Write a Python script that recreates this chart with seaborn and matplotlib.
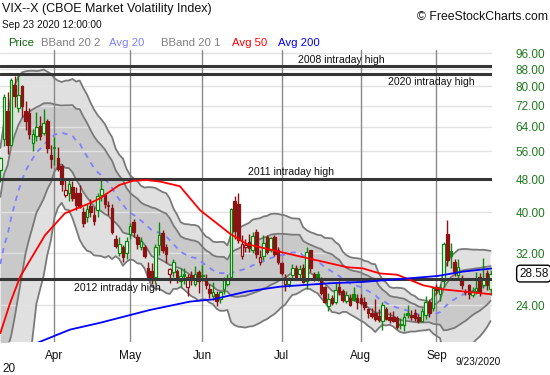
import numpy as np
import pandas as pd
import matplotlib
matplotlib.use("Agg")
import matplotlib.pyplot as plt
import matplotlib.transforms as mtransforms
from matplotlib.ticker import NullLocator
import seaborn as sns

# ---------------- data ----------------
# closes of the 19 sessions before the first visible one (needed for the 20-day bands)
prior_close = [13.74, 14.15, 13.68, 14.83, 14.38, 15.56, 17.08, 25.03, 27.85, 27.56,
               39.16, 40.11, 33.42, 36.82, 31.99, 39.62, 41.94, 54.46, 47.30]

opens = [50.5, 60.0, 70.0, 58.0, 80.5, 71.0, 80.0, 70.0, 69.0, 58.5,
         61.0, 64.5, 62.0, 66.0, 55.0, 57.0, 54.0, 51.5, 44.0, 44.5,
         46.0, 44.5, 44.5, 40.0, 39.0, 41.5, 39.5, 40.5, 44.0, 44.0,
         41.5, 41.0, 34.5, 32.0, 33.0, 32.0, 35.5, 38.0, 35.0, 33.0,
         33.0, 29.5, 29.0, 28.0, 33.5, 35.8, 33.0, 28.5, 28.8, 29.0,
         27.5, 28.5, 26.5, 28.4, 27.0, 28.9, 28.4, 27.8, 26.3, 25.2,
         25.5, 24.8, 26.3, 27.0, 28.0, 42.5, 42.0, 31.5, 33.0, 34.0,
         32.5, 36.0, 30.5, 31.5, 35.0, 32.5, 35.0, 32.5, 30.3, 27.0,
         27.0, 28.3, 29.5, 28.5, 29.5, 27.5, 32.5, 28.5, 28.5, 27.6,
         26.5, 23.9, 25.0, 24.4, 26.5, 26.0, 24.6, 25.0, 25.5, 25.0,
         25.0, 24.5, 23.5, 23.0, 23.0, 22.6, 22.0, 23.5, 22.5, 22.5,
         22.4, 21.7, 21.5, 23.0, 22.8, 23.0, 22.5, 22.0, 22.7, 24.5,
         23.6, 26.5, 25.6, 27.5, 35.5, 32.3, 30.4, 28.4, 27.9, 25.9,
         26.9, 25.4, 26.0, 28.0, 26.9, 28.6, 26.2]
highs = [54.4, 76.8, 77.6, 83.6, 84.8, 85.47, 80.6, 73.7, 71.0, 63.3,
         69.4, 67.8, 70.5, 67.0, 58.0, 60.6, 57.2, 52.3, 48.0, 48.3,
         47.5, 46.0, 46.5, 41.3, 42.0, 43.0, 41.1, 44.6, 47.7, 44.5,
         42.6, 42.0, 35.4, 35.0, 33.5, 35.0, 37.8, 38.5, 35.6, 35.0,
         33.5, 30.5, 30.3, 33.6, 38.0, 36.3, 33.7, 29.5, 30.9, 29.3,
         29.5, 29.5, 28.5, 29.0, 29.8, 29.2, 30.0, 28.5, 27.0, 27.3,
         26.0, 26.0, 28.0, 28.5, 41.0, 43.8, 44.4, 35.3, 34.5, 35.5,
         36.0, 36.5, 32.5, 35.3, 35.3, 35.0, 35.3, 33.0, 30.5, 28.5,
         28.0, 30.2, 30.0, 30.0, 30.1, 33.0, 32.6, 28.9, 29.0, 28.0,
         26.7, 25.7, 25.4, 27.2, 27.5, 26.3, 25.9, 25.6, 26.5, 25.6,
         25.6, 25.1, 23.7, 23.6, 24.9, 23.5, 24.5, 23.8, 23.1, 23.3,
         22.6, 22.4, 23.0, 24.0, 23.4, 23.5, 22.9, 23.7, 25.3, 24.8,
         26.5, 27.0, 27.0, 34.0, 38.3, 33.8, 31.0, 31.0, 28.3, 26.3,
         27.0, 26.5, 28.9, 28.7, 31.2, 29.1, 29.1]
lows = [47.2, 57.5, 55.3, 57.6, 71.5, 69.4, 67.6, 63.0, 59.8, 56.0,
        59.2, 59.5, 61.1, 55.5, 51.2, 52.0, 50.2, 45.0, 43.5, 42.5,
        42.5, 40.5, 41.0, 37.0, 38.0, 39.0, 37.4, 39.0, 42.5, 41.0,
        39.5, 35.6, 32.9, 31.5, 30.5, 30.9, 34.5, 35.0, 32.8, 32.5,
        31.1, 27.6, 27.0, 27.1, 31.6, 32.0, 30.3, 27.1, 28.0, 27.2,
        26.6, 27.0, 25.3, 26.8, 26.7, 25.7, 27.5, 26.2, 25.0, 24.7,
        23.9, 24.3, 25.6, 26.7, 28.0, 34.5, 33.8, 31.0, 32.2, 32.2,
        32.0, 31.2, 30.0, 30.8, 31.9, 32.2, 31.5, 30.2, 28.3, 26.0,
        26.5, 27.8, 28.0, 27.6, 27.1, 26.3, 28.9, 27.4, 27.4, 25.4,
        24.3, 23.3, 24.0, 24.2, 25.4, 24.5, 24.3, 23.9, 24.6, 23.5,
        24.0, 23.4, 22.4, 22.4, 22.0, 21.9, 21.0, 22.2, 21.8, 21.9,
        21.1, 21.1, 20.9, 22.4, 22.2, 22.0, 21.8, 21.9, 22.3, 22.5,
        23.3, 25.5, 24.6, 26.5, 29.8, 29.4, 28.2, 27.9, 26.3, 25.4,
        24.9, 25.1, 25.6, 25.3, 26.4, 26.1, 25.4]
closes = [53.90, 75.47, 57.83, 82.69, 75.91, 76.45, 72.00, 66.04, 61.59, 61.67,
          63.95, 61.00, 65.54, 57.08, 53.54, 57.06, 50.91, 46.80, 45.24, 46.70,
          43.35, 41.67, 41.17, 37.76, 40.84, 40.11, 38.15, 43.83, 45.41, 41.98,
          41.38, 35.93, 33.29, 33.57, 31.23, 34.15, 37.19, 35.97, 33.61, 34.12,
          31.44, 27.98, 27.57, 33.04, 35.28, 32.61, 31.89, 29.30, 30.53, 27.99,
          28.16, 28.16, 28.01, 27.62, 28.59, 27.51, 28.23, 26.84, 25.66, 25.81,
          24.52, 25.81, 27.57, 27.57, 40.79, 36.09, 34.40, 33.67, 33.47, 32.94,
          35.12, 31.77, 31.37, 33.84, 32.22, 34.73, 31.78, 30.43, 28.62, 27.68,
          27.94, 29.43, 28.08, 29.26, 27.29, 32.19, 29.52, 27.76, 28.00, 25.68,
          24.46, 24.84, 24.32, 26.08, 25.84, 24.74, 25.44, 24.10, 24.76, 24.46,
          24.28, 23.76, 23.00, 22.65, 22.21, 22.13, 24.03, 22.28, 22.13, 22.05,
          21.35, 21.51, 22.54, 22.72, 22.54, 22.37, 22.03, 23.27, 24.47, 22.96,
          26.41, 26.12, 26.57, 33.60, 30.75, 31.46, 28.81, 29.71, 26.87, 25.85,
          25.59, 26.04, 26.46, 25.83, 27.78, 26.86, 28.58]

# 50-day and 200-day averages (session index, value)
ma50_idx = [0, 2.7, 5.5, 12.4, 17.9, 24.9, 27.6, 33.0, 36.8, 40.5, 44.3, 49.8, 55.4, 63.7,
            68.4, 77.6, 86.7, 96.2, 100.6, 105.3, 110.1, 117.3, 122.8, 136.4]
ma50_val = [20.6, 24.3, 28.1, 35.3, 39.8, 42.1, 43.2, 46.5, 47.6, 47.8, 47.4, 46.2, 40.5, 35.6,
            33.6, 32.2, 30.9, 29.6, 29.4, 28.6, 28.4, 26.8, 26.2, 25.5]
ma200_idx = [8.2, 11.0, 19.3, 27.6, 41.5, 52.6, 59.0, 68.4, 77.6, 91.5, 100.6,
             110.1, 121.2, 128.4, 136.4]
ma200_val = [19.2, 19.65, 21.0, 21.8, 23.4, 24.5, 24.8, 25.9, 26.6, 27.1, 27.3,
             27.7, 28.2, 28.9, 29.4]

levels = [89.53, 85.47, 48.20, 27.73]
level_labels = ["2008 intraday high", "2020 intraday high", "2011 intraday high", "2012 intraday high"]

y_ticks = [24, 32, 40, 48, 56, 64, 72, 80, 88, 96]
month_labels = ["Apr", "May", "Jun", "Jul", "Aug", "Sep"]

# ---------------- derived ----------------
dates = pd.bdate_range("2020-03-11", "2020-09-23")
holidays = pd.to_datetime(["2020-04-10", "2020-05-25", "2020-07-03", "2020-09-07"])
dates = dates[~dates.isin(holidays)]
n = len(closes)
assert len(dates) == n == len(opens) == len(highs) == len(lows)
idx = np.arange(n)

allc = pd.Series(prior_close + closes)
mid = allc.rolling(20).mean().to_numpy()[-n:]
sd = allc.rolling(20).std(ddof=0).to_numpy()[-n:]
up2, lo2 = mid + 2 * sd, mid - 2 * sd
up1, lo1 = mid + sd, mid - sd

month_pos = [int(np.argmax(dates.month == m)) for m in [4, 5, 6, 7, 8, 9]]

# ---------------- figure ----------------
sns.set_theme(style="white")
plt.rcParams["font.family"] = ["Liberation Sans", "DejaVu Sans"]

W, H = 550, 375
fig = plt.figure(figsize=(5.5, 3.75), dpi=100)
ax = fig.add_axes([0 / W, 1 - 342 / H, 492 / W, (342 - 50) / H])
ax.set_facecolor("white")
ax.set_yscale("log")
ax.set_ylim(19.62, 97.7)
ax.set_xlim(-0.1, 136.4)

for s in ax.spines.values():
    s.set_visible(False)

# bands
ax.fill_between(idx, lo2, up2, color="#e0e0e0", lw=0, zorder=1)
ax.fill_between(idx, lo1, up1, color="#c9c9c9", lw=0, zorder=1.1)

# grid
for t in y_ticks:
    ax.axhline(t, color="#e2e2e2", lw=1, zorder=1.5)
for p in month_pos:
    ax.axvline(p, color="#8a8a8a", lw=1, zorder=1.6)

for arr in (up2, lo2, up1, lo1):
    ax.plot(idx, arr, color="#7a7a7a", lw=1.3, zorder=2)
sns.lineplot(x=idx, y=mid, ax=ax, color="#8080ff", lw=1.3, linestyle=(0, (3, 3)), zorder=2.1)

# candles
green, red = "#0a8a0a", "#8b1313"
prev = [prior_close[-1]] + closes[:-1]
for i in range(n):
    o, h, l, c = opens[i], highs[i], lows[i], closes[i]
    col = green if c >= prev[i] else red
    filled = c < o
    ax.vlines(i, l, h, color=col, lw=1, zorder=3)
    lo_b, hi_b = min(o, c), max(o, c)
    if hi_b / lo_b < 1.006:
        ax.hlines(c, i - 0.38, i + 0.38, color=col, lw=1.2, zorder=3.1)
    else:
        ax.bar(i, hi_b - lo_b, bottom=lo_b, width=0.72,
               facecolor=col if filled else "white", edgecolor=col, linewidth=0.9, zorder=3.1)

# level lines
for lv in levels:
    ax.axhline(lv, color="#363636", lw=2.2, zorder=4)

# moving averages
sns.lineplot(x=ma50_idx, y=ma50_val, ax=ax, color="#ff0000", lw=1.3, zorder=5)
sns.lineplot(x=ma200_idx, y=ma200_val, ax=ax, color="#0000ff", lw=1.3, zorder=5)

# axes ticks
ax.yaxis.tick_right()
ax.yaxis.set_minor_locator(NullLocator())
ax.set_yticks(y_ticks)
ax.set_yticklabels([f"{t:.2f}" for t in y_ticks], color="#1f7a1f", fontsize=8.5)
ax.tick_params(axis="y", length=0, pad=17)
ax.set_xticks(month_pos)
ax.set_xticklabels(month_labels, fontsize=8.5, color="#111111")
ax.tick_params(axis="x", length=0, pad=6)
ax.set_xlabel("")
ax.set_ylabel("")

# last price box
trans = mtransforms.blended_transform_factory(ax.transAxes, ax.transData)
ax.text(1 + 27 / 492, closes[-1], f"{closes[-1]:.2f}", transform=trans, fontsize=8.5,
        va="center", ha="left", color="#111111",
        bbox=dict(boxstyle="round,pad=0.2,rounding_size=0.3", fc="white", ec="black", lw=1))

# level annotations
def fx(px):
    return px / W

def fy(py):
    return 1 - py / H

ann_pos = [(298, 60), (388, 82), (248, 172), (74, 288)]
for (px, py), txt in zip(ann_pos, level_labels):
    fig.text(fx(px), fy(py), txt, fontsize=7.6, color="#111111", ha="left", va="center")

# header texts
fig.text(fx(2), fy(9), "VIX--X (CBOE Market Volatility Index)", fontsize=9.0, color="#111111",
         ha="left", va="center")
fig.text(fx(2), fy(25), "Sep 23 2020 12:00:00", fontsize=7.3, color="#111111", ha="left", va="center")
fig.text(fx(548), fy(17), "\u00a9 FreeStockCharts.com", fontsize=8.8, color="#111111",
         ha="right", va="center")
legend_items = [("Price", 8, "#0b660b"), ("BBand 20 2", 41, "#7f7f7f"), ("Avg 20", 109, "#8080ff"),
                ("BBand 20 1", 161, "#7f7f7f"), ("Avg 50", 232, "#ff0000"), ("Avg 200", 278, "#0000ff")]
for txt, px, col in legend_items:
    fig.text(fx(px), fy(43), txt, fontsize=8.2, color=col, ha="left", va="center")

fig.text(fx(2), fy(369), "20", fontsize=8.5, color="#111111", ha="left", va="center")
fig.text(fx(456), fy(362), "9/23/2020", fontsize=7.3, color="#111111", ha="left", va="center")

fig.savefig("out.png", dpi=100)
